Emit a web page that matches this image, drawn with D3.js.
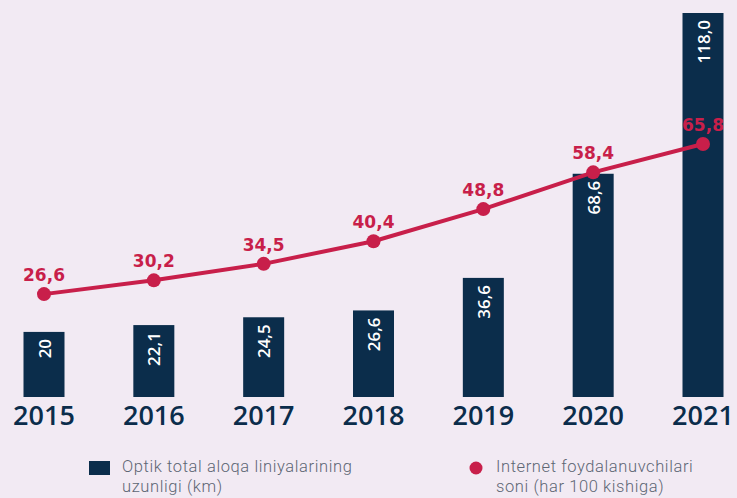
<!DOCTYPE html>
<html>
<head>
<meta charset="utf-8">
<script src="https://cdn.jsdelivr.net/npm/d3@7"></script>
<style>
  html, body { margin: 0; padding: 0; background: #f2eaf3; }
  svg { display: block; }
</style>
</head>
<body>
<div id="chart"></div>
<script>
const years = ["2015", "2016", "2017", "2018", "2019", "2020", "2021"];
const fiberKm = [20, 22.1, 24.5, 26.6, 36.6, 68.6, 118.0];
const fiberLabels = ["20", "22,1", "24,5", "26,6", "36,6", "68,6", "118,0"];
const internetUsers = [26.6, 30.2, 34.5, 40.4, 48.8, 58.4, 65.8];
const internetLabels = ["26,6", "30,2", "34,5", "40,4", "48,8", "58,4", "65,8"];
const legendItems = [
  ["Optik total aloqa liniyalarining", "uzunligi (km)"],
  ["Internet foydalanuvchilari", "soni (har 100 kishiga)"],
];

const width = 737;
const height = 498;
const navy = "#0b2d4b";
const red = "#c81f4a";

const svg = d3
  .select("#chart")
  .append("svg")
  .attr("width", width)
  .attr("height", height);

svg.append("rect").attr("width", width).attr("height", height).attr("fill", "#f2eaf3");

// x: bar centers
const x = d3.scalePoint().domain(years).range([44, 703]);
const barW = 41;

// bars and line have their own scales
const yBar = d3.scaleLinear().domain([0, 118]).range([397, 13]);
const yLine = d3.scaleLinear().domain([0, 100]).range([396, 13]);

// bars
years.forEach((yr, i) => {
  const top = yBar(fiberKm[i]);
  svg
    .append("rect")
    .attr("x", x(yr) - barW / 2)
    .attr("y", top)
    .attr("width", barW)
    .attr("height", yBar(0) - top)
    .attr("fill", navy);

  svg
    .append("text")
    .attr("transform", `translate(${x(yr)}, ${top + 7}) rotate(-90)`)
    .attr("text-anchor", "end")
    .attr("dominant-baseline", "central")
    .attr("fill", "#ffffff")
    .style("font-family", "'Open Sans', sans-serif")
    .style("font-weight", 600)
    .style("font-size", "17px")
    .text(fiberLabels[i]);
});

// year labels
svg
  .append("g")
  .selectAll("text")
  .data(years)
  .enter()
  .append("text")
  .attr("x", (d) => x(d))
  .attr("y", 425)
  .attr("text-anchor", "middle")
  .attr("fill", navy)
  .style("font-family", "'Open Sans', sans-serif")
  .style("font-weight", 600)
  .style("font-size", "27px")
  .text((d) => d);

// line
const line = d3
  .line()
  .x((d, i) => x(years[i]))
  .y((d) => yLine(d));

svg
  .append("path")
  .datum(internetUsers)
  .attr("fill", "none")
  .attr("stroke", red)
  .attr("stroke-width", 4)
  .attr("d", line);

svg
  .selectAll("circle.pt")
  .data(internetUsers)
  .enter()
  .append("circle")
  .attr("class", "pt")
  .attr("cx", (d, i) => x(years[i]))
  .attr("cy", (d) => yLine(d))
  .attr("r", 7)
  .attr("fill", red);

svg
  .selectAll("text.pt")
  .data(internetUsers)
  .enter()
  .append("text")
  .attr("class", "pt")
  .attr("x", (d, i) => x(years[i]))
  .attr("y", (d) => yLine(d) - 13)
  .attr("text-anchor", "middle")
  .attr("fill", red)
  .style("font-family", "'DejaVu Sans', sans-serif")
  .style("font-weight", 700)
  .style("font-size", "17px")
  .text((d, i) => internetLabels[i]);

// legend
const legend = svg.append("g");
legend.append("rect").attr("x", 89).attr("y", 461).attr("width", 21).attr("height", 14).attr("fill", navy);
legend.append("circle").attr("cx", 476).attr("cy", 468).attr("r", 6.5).attr("fill", red);

[122, 496].forEach((lx, k) => {
  legendItems[k].forEach((ln, j) => {
    legend
      .append("text")
      .attr("x", lx)
      .attr("y", 472 + j * 19.5)
      .attr("fill", "#5d6673")
      .style("font-family", "Roboto, sans-serif")
      .style("font-weight", 300)
      .style("font-size", "16.5px")
      .style("letter-spacing", "0.6px")
      .text(ln);
  });
});
</script>
</body>
</html>
